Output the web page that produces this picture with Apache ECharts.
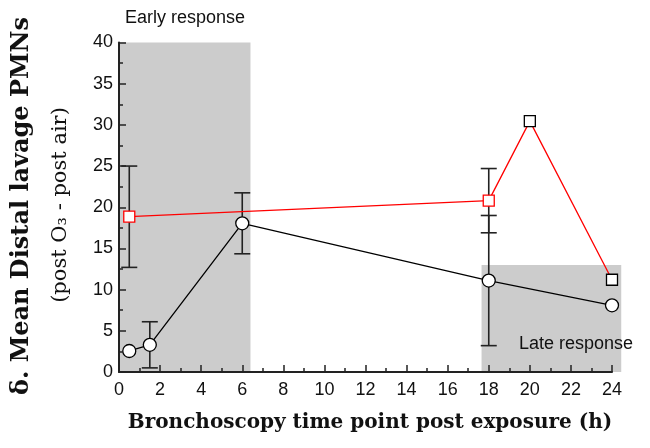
<!DOCTYPE html>
<html><head><meta charset="utf-8">
<script src="https://cdn.jsdelivr.net/npm/echarts@6/dist/echarts.min.js"></script>
<style>html,body{margin:0;padding:0;background:#fff}#c{width:650px;height:448px}</style>
</head><body><div id="c"></div>
<script>
// Data
const xTicks = [0,2,4,6,8,10,12,14,16,18,20,22,24];
const yTicks = [0,5,10,15,20,25,30,35,40];
const circleX = [0.5, 1.5, 6, 18, 24];
const circleY = [2.55, 3.3, 18.05, 11.1, 8.1];
const circleErr = [null, 2.8, 3.7, 7.9, null];
const squareX = [0.5, 18, 20, 24];
const squareY = [18.85, 20.8, 30.45, 11.2];
const squareErr = [6.15, 3.9, null, null];
const squareBorder = ['#ff0000', '#ff0000', '#000000', '#000000'];
const regionNames = ['Early response', 'Late response'];
const regions = [[0, 6.4, 0, 40], [17.65, 24.45, 0, 13]];

const chart = echarts.init(document.getElementById('c'), null, {renderer:'canvas'});

const errData = [];
circleX.forEach((x,i)=>{ if(circleErr[i]!=null) errData.push([x, circleY[i]-circleErr[i], circleY[i]+circleErr[i]]); });
squareX.forEach((x,i)=>{ if(squareErr[i]!=null) errData.push([x, squareY[i]-squareErr[i], squareY[i]+squareErr[i]]); });

const axisCol = '#222';
const option = {
  animation: false,
  grid: {left:119, right:38, top:42.5, bottom:76},
  xAxis: {
    type:'value', min:0, max:24, interval:2, z:10,
    axisLine:{show:true, onZero:false, lineStyle:{color:axisCol, width:2}},
    axisTick:{show:true, inside:true, length:7, lineStyle:{color:axisCol, width:1.5}},
    minorTick:{show:true, splitNumber:2, length:4, lineStyle:{color:axisCol, width:1.5}},
    splitLine:{show:false},
    axisLabel:{color:'#111', fontFamily:'Liberation Sans', fontSize:18, margin:9,
      formatter:(v)=> xTicks.includes(v) ? String(v) : ''}
  },
  yAxis: {
    type:'value', min:0, max:40, interval:5, z:10,
    axisLine:{show:true, onZero:false, lineStyle:{color:axisCol, width:2}},
    axisTick:{show:true, inside:true, length:7, lineStyle:{color:axisCol, width:1.5}},
    minorTick:{show:true, splitNumber:2, length:4, lineStyle:{color:axisCol, width:1.5}},
    splitLine:{show:false},
    axisLabel:{color:'#111', fontFamily:'Liberation Sans', fontSize:18, margin:6,
      formatter:(v)=> yTicks.includes(v) ? String(v) : ''}
  },
  graphic: [
    {type:'text', x:185, y:18, style:{text:regionNames[0], font:'18px "Liberation Sans"', fill:'#111', align:'center', verticalAlign:'middle'}},
    {type:'text', x:576, y:344, style:{text:regionNames[1], font:'18px "Liberation Sans"', fill:'#111', align:'center', verticalAlign:'middle'}},
    {type:'text', x:22, y:206, rotation:Math.PI/2, style:{text:'δ. Mean Distal lavage PMNs', font:'bold 24px "DejaVu Serif"', fill:'#111', align:'center', verticalAlign:'middle'}},
    {type:'text', x:61, y:205, rotation:Math.PI/2, style:{text:'(post O₃ - post air)', font:'21px "DejaVu Serif"', fill:'#111', align:'center', verticalAlign:'middle'}},
    {type:'text', x:370, y:423, style:{text:'Bronchoscopy time point post exposure (h)', font:'bold 20px "DejaVu Serif"', fill:'#111', align:'center', verticalAlign:'middle'}}
  ],
  series: [
    {
      type:'custom', z:-1, silent:true, clip:false,
      data: regions,
      renderItem:(params, api)=>{
        const p1 = api.coord([api.value(0), api.value(3)]);
        const p2 = api.coord([api.value(1), api.value(2)]);
        return {type:'rect', shape:{x:p1[0], y:p1[1], width:p2[0]-p1[0], height:p2[1]-p1[1]}, style:{fill:'#cccccc'}};
      },
      encode:{x:[0,1], y:[2,3]}
    },
    {
      type:'custom', z:3, silent:true, clip:false,
      data: errData,
      renderItem:(params, api)=>{
        const x = api.value(0);
        const lo = api.coord([x, api.value(1)]);
        const hi = api.coord([x, api.value(2)]);
        const w = 8;
        const st = {stroke:'#222', lineWidth:1.6};
        return {type:'group', children:[
          {type:'line', shape:{x1:lo[0], y1:lo[1], x2:hi[0], y2:hi[1]}, style:st},
          {type:'line', shape:{x1:lo[0]-w, y1:lo[1], x2:lo[0]+w, y2:lo[1]}, style:st},
          {type:'line', shape:{x1:hi[0]-w, y1:hi[1], x2:hi[0]+w, y2:hi[1]}, style:st}
        ]};
      },
      encode:{x:0, y:[1,2]}
    },
    {
      type:'line', z:5,
      data: circleX.map((x,i)=>[x, circleY[i]]),
      symbol:'circle', symbolSize:13,
      lineStyle:{color:'#000', width:1.3},
      itemStyle:{color:'#fff', borderColor:'#000', borderWidth:1.3}
    },
    {
      type:'line', z:6,
      data: squareX.map((x,i)=>({value:[x, squareY[i]], itemStyle:{borderColor:squareBorder[i]}})),
      symbol:'rect', symbolSize:11,
      lineStyle:{color:'#ff0000', width:1.3},
      itemStyle:{color:'#fff', borderColor:'#ff0000', borderWidth:1.3}
    }
  ]
};
chart.setOption(option);
</script>
</body></html>
